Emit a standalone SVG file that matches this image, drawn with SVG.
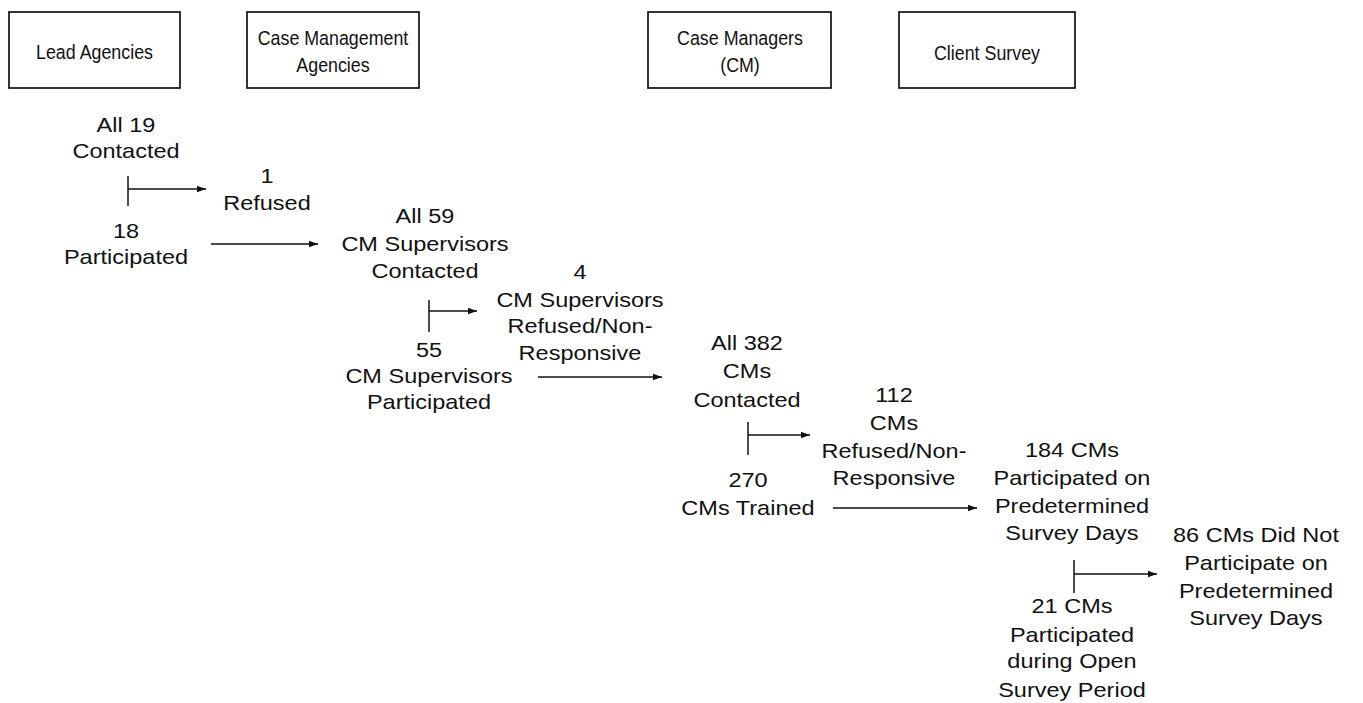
<svg xmlns="http://www.w3.org/2000/svg" width="1363" height="703" viewBox="0 0 1363 703">
<style>
.box{fill:#fff;stroke:#111;stroke-width:1.7}
.h{font-family:"Liberation Sans",Arial,sans-serif;font-size:20.5px;fill:#111;text-anchor:middle}
.t{font-family:"Liberation Sans",Arial,sans-serif;font-size:21px;fill:#111;text-anchor:middle}
.c{stroke:#111;stroke-width:1.5;fill:none}
</style>
<defs>
<marker id="ah" markerUnits="userSpaceOnUse" markerWidth="10" markerHeight="8" refX="9" refY="4" orient="auto">
<path d="M0,0.8 L9,4 L0,7.2 Z" fill="#111"/>
</marker>
</defs>
<rect width="1363" height="703" fill="#fff"/>
<g id="hdr-lead"><rect class="box" x="9" y="12" width="171" height="76"/><g transform="matrix(0.87,0,0,1,12.285,0)"><text class="h" x="94.5" y="59">Lead Agencies</text></g></g>
<g id="hdr-cma"><rect class="box" x="247" y="12" width="172" height="76"/><g transform="matrix(0.87,0,0,1,43.29,0)"><text class="h" x="333" y="45">Case Management</text><text class="h" x="333" y="72">Agencies</text></g></g>
<g id="hdr-cm"><rect class="box" x="648" y="12" width="183" height="76"/><g transform="matrix(0.87,0,0,1,96.2,0)"><text class="h" x="740" y="45">Case Managers</text><text class="h" x="740" y="72">(CM)</text></g></g>
<g id="hdr-survey"><rect class="box" x="899" y="12" width="176" height="76"/><g transform="matrix(0.87,0,0,1,128.31,0)"><text class="h" x="987" y="60">Client Survey</text></g></g>

<g id="n-all19" transform="matrix(1.12,0,0,1,-15.12,0)"><text class="t" x="126" y="132">All 19</text><text class="t" x="126" y="158">Contacted</text></g>
<g id="n-refused1" transform="matrix(1.12,0,0,1,-32.04,0)"><text class="t" x="267" y="183">1</text><text class="t" x="267" y="210">Refused</text></g>
<g id="n-18" transform="matrix(1.12,0,0,1,-15.12,0)"><text class="t" x="126" y="238">18</text><text class="t" x="126" y="264">Participated</text></g>
<g id="n-all59" transform="matrix(1.12,0,0,1,-51,0)"><text class="t" x="425" y="223">All 59</text><text class="t" x="425" y="251">CM Supervisors</text><text class="t" x="425" y="278">Contacted</text></g>
<g id="n-4" transform="matrix(1.12,0,0,1,-69.6,0)"><text class="t" x="580" y="279">4</text><text class="t" x="580" y="307">CM Supervisors</text><text class="t" x="580" y="333">Refused/Non-</text><text class="t" x="580" y="360">Responsive</text></g>
<g id="n-55" transform="matrix(1.12,0,0,1,-51.48,0)"><text class="t" x="429" y="357">55</text><text class="t" x="429" y="383">CM Supervisors</text><text class="t" x="429" y="409">Participated</text></g>
<g id="n-all382" transform="matrix(1.12,0,0,1,-89.64,0)"><text class="t" x="747" y="350">All 382</text><text class="t" x="747" y="378">CMs</text><text class="t" x="747" y="407">Contacted</text></g>
<g id="n-112" transform="matrix(1.12,0,0,1,-107.28,0)"><text class="t" x="894" y="402">112</text><text class="t" x="894" y="430">CMs</text><text class="t" x="894" y="458">Refused/Non-</text><text class="t" x="894" y="485">Responsive</text></g>
<g id="n-270" transform="matrix(1.12,0,0,1,-89.76,0)"><text class="t" x="748" y="487">270</text><text class="t" x="748" y="515">CMs Trained</text></g>
<g id="n-184" transform="matrix(1.12,0,0,1,-128.64,0)"><text class="t" x="1072" y="457">184 CMs</text><text class="t" x="1072" y="485">Participated on</text><text class="t" x="1072" y="513">Predetermined</text><text class="t" x="1072" y="540">Survey Days</text></g>
<g id="n-86" transform="matrix(1.12,0,0,1,-150.72,0)"><text class="t" x="1256" y="542">86 CMs Did Not</text><text class="t" x="1256" y="570">Participate on</text><text class="t" x="1256" y="598">Predetermined</text><text class="t" x="1256" y="625">Survey Days</text></g>
<g id="n-21" transform="matrix(1.12,0,0,1,-128.64,0)"><text class="t" x="1072" y="613">21 CMs</text><text class="t" x="1072" y="642">Participated</text><text class="t" x="1072" y="668">during Open</text><text class="t" x="1072" y="697">Survey Period</text></g>

<g id="connectors">
<line class="c" x1="128" y1="176" x2="128" y2="206"/>
<line class="c" x1="128" y1="189" x2="206" y2="189" marker-end="url(#ah)"/>
<line class="c" x1="211" y1="244" x2="318" y2="244" marker-end="url(#ah)"/>
<line class="c" x1="429" y1="300" x2="429" y2="332"/>
<line class="c" x1="429" y1="311" x2="477" y2="311" marker-end="url(#ah)"/>
<line class="c" x1="538" y1="377" x2="662" y2="377" marker-end="url(#ah)"/>
<line class="c" x1="748" y1="422" x2="748" y2="455"/>
<line class="c" x1="748" y1="435" x2="810" y2="435" marker-end="url(#ah)"/>
<line class="c" x1="833" y1="508" x2="977" y2="508" marker-end="url(#ah)"/>
<line class="c" x1="1074" y1="560" x2="1074" y2="593"/>
<line class="c" x1="1074" y1="574" x2="1157" y2="574" marker-end="url(#ah)"/>
</g>
</svg>
